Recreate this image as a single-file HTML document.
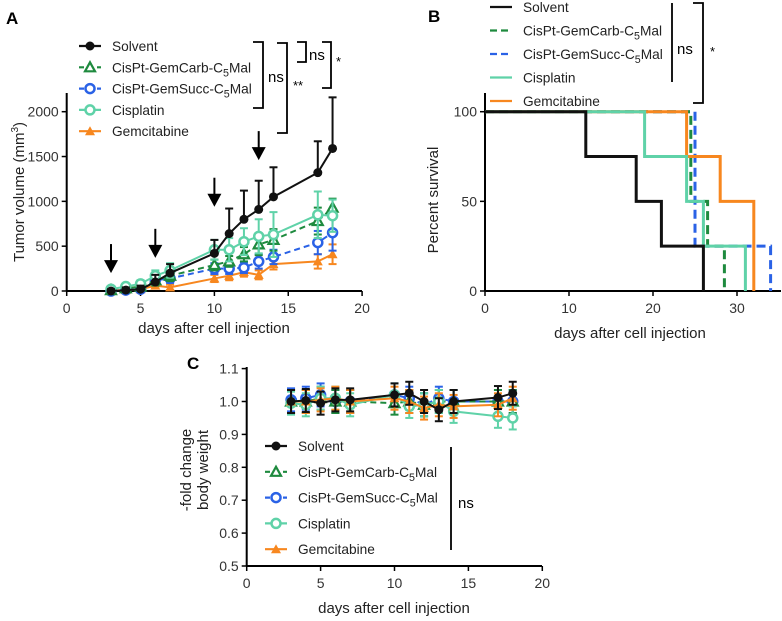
<!DOCTYPE html>
<html><head><meta charset="utf-8"><style>
body{margin:0;background:#fff;}
svg{display:block;font-family:"Liberation Sans",Arial,sans-serif;}
</style></head><body>
<svg id="fig" width="782" height="621" viewBox="0 0 782 621"></svg>
<script>
// ---------- Panel A data ----------
const daysA=[3,4,5,6,7,10,11,12,13,14,17,18];
const solventA=[0,10,20,100,200,420,640,800,910,1050,1320,1590];
const solventAerr=[20,30,40,80,100,150,280,320,320,330,350,570];
const carbA=[10,30,50,120,170,290,330,410,520,570,780,930];
const carbAerr=[20,30,40,60,60,60,60,80,120,120,150,100];
const succA=[0,10,20,120,140,250,250,260,330,380,540,650];
const succAerr=[20,20,20,50,50,60,60,60,80,80,130,200];
const cisA=[20,50,80,170,230,460,460,550,610,630,850,840];
const cisAerr=[20,30,40,60,80,110,130,150,190,250,260,180];
const gemA=[5,10,20,60,40,140,170,210,180,300,330,410];
const gemAerr=[10,10,10,30,30,40,50,50,50,60,80,110];
const ticksAx=[0,5,10,15,20];
const ticksAy=[0,500,1000,1500,2000];
const arrowDays=[3,6,10,13];
const arrowTips=[200,370,940,1460];
// ---------- Panel B data ----------
const solventB_t=[0,12,18,21,26];const solventB_v=[100,75,50,25,0];
const cisB_t=[0,19,24,26,31];const cisB_v=[100,75,50,25,0];
const gemB_t=[0,24,28,32];const gemB_v=[100,75,50,0];
const carbB_t=[0,24.5,26.5,28.5];const carbB_v=[100,50,25,0];
const succB_t=[0,25,34];const succB_v=[100,25,0];
const ticksBx=[0,10,20,30];
const ticksBy=[0,50,100];
// ---------- Panel C data ----------
const daysC=[3,4,5,6,7,10,11,12,13,14,17,18];
const solventC=[1.0,1.003,0.995,1.005,1.005,1.02,1.025,1.0,0.975,1.0,1.012,1.025];
const cisC=[0.995,0.99,1.01,1.01,0.99,1.02,0.985,0.99,1.0,0.97,0.955,0.95];
const carbC=[1.0,1.0,1.01,1.0,1.0,0.995,1.0,0.99,1.0,1.0,1.0,1.0];
const succC=[1.005,1.01,1.02,1.0,1.0,1.02,1.01,0.99,1.01,1.0,1.0,1.0];
const gemC=[1.0,1.0,1.005,1.01,1.0,1.01,1.0,0.98,0.99,0.985,0.99,1.01];
const errC=0.035;
const ticksCx=[0,5,10,15,20];
const ticksCy=[0.5,0.6,0.7,0.8,0.9,1.0,1.1];

const BLACK='#111',GREEN='#1e8a3e',BLUE='#2a62e6',TEAL='#5fd2a8',ORANGE='#f7871f';
const NS='http://www.w3.org/2000/svg';
const svg=document.getElementById('fig');
function el(tag,attrs,parent,text){const e=document.createElementNS(NS,tag);for(const k in attrs)e.setAttribute(k,attrs[k]);if(text!==undefined)e.textContent=text;(parent||svg).appendChild(e);return e;}
function grp(name){const g=el('g',{});


return g;}

const xA=d=>66.7+d*14.77, yA=v=>291-v*(179.3/2000);
const xB=d=>485+d*8.4, yB=v=>291-v*1.793;
const xC=d=>246.7+d*14.78, yC=v=>566-(v-0.5)*329;

function axes(g,x0,x1,y0,y1,xs,ys,tx,ty,xfmt,yfmt){
  el('line',{x1:x0,y1:y0,x2:x1,y2:y0,stroke:'#000','stroke-width':2},g);
  el('line',{x1:x0,y1:y0,x2:x0,y2:y1,stroke:'#000','stroke-width':2},g);
  tx.forEach(t=>{const x=xs(t);el('line',{x1:x,y1:y0,x2:x,y2:y0+5,stroke:'#000','stroke-width':1.5},g);
    el('text',{x:x,y:y0+22,'text-anchor':'middle','font-size':14,fill:'#333'},g,xfmt(t));});
  ty.forEach(t=>{const y=ys(t);el('line',{x1:x0-5,y1:y,x2:x0,y2:y,stroke:'#000','stroke-width':1.5},g);
    el('text',{x:x0-8,y:y+5,'text-anchor':'end','font-size':14,fill:'#333'},g,yfmt(t));});
}
function marker(g,type,x,y,c){
  if(type==='dot')el('circle',{cx:x,cy:y,r:4.5,fill:c},g);
  else if(type==='ring')el('circle',{cx:x,cy:y,r:4.5,fill:'#fff',stroke:c,'stroke-width':2.5},g);
  else if(type==='tri')el('path',{d:`M${x},${y-5}L${x+5},${y+4}L${x-5},${y+4}Z`,fill:'#fff',stroke:c,'stroke-width':2.2},g);
  else if(type==='ftri')el('path',{d:`M${x},${y-5}L${x+5},${y+4}L${x-5},${y+4}Z`,fill:c},g);
}
function series(name,xs,ys,days,vals,errs,both,c,dash,mk){
  const g=grp(name);
  days.forEach((d,i)=>{const x=xs(d),e=Array.isArray(errs)?errs[i]:errs;
    const yt=ys(vals[i]+e),yb=both?ys(vals[i]-e):ys(vals[i]);
    el('line',{x1:x,y1:yt,x2:x,y2:yb,stroke:c,'stroke-width':2},g);
    el('line',{x1:x-4,y1:yt,x2:x+4,y2:yt,stroke:c,'stroke-width':2},g);
    if(both)el('line',{x1:x-4,y1:yb,x2:x+4,y2:yb,stroke:c,'stroke-width':2},g);});
  el('polyline',{points:days.map((d,i)=>xs(d)+','+ys(vals[i])).join(' '),fill:'none',stroke:c,'stroke-width':2,'stroke-dasharray':dash||'none'},g);
  days.forEach((d,i)=>marker(g,mk,xs(d),ys(vals[i]),c));
}
function legend(name,x,y0,dy,items,fs){
  const g=grp(name);
  items.forEach((it,i)=>{const y=y0+i*dy;
    el('line',{x1:x,y1:y,x2:x+22,y2:y,stroke:it[1],'stroke-width':2.2,'stroke-dasharray':it[2]||'none'},g);
    if(it[3])marker(g,it[3],x+11,y,it[1]);
    const t=el('text',{x:x+33,y:y+5,'font-size':fs,fill:'#222'},g);
    const m=it[0].match(/^(.*C)(5)(Mal)$/);
    if(m){t.appendChild(document.createTextNode(m[1]));el('tspan',{dy:4,'font-size':fs-3},t,'5');el('tspan',{dy:-4},t,m[3]);}
    else t.textContent=it[0];});
}
function bracket(g,x,y1,y2,w){el('path',{d:`M${x-w},${y1}H${x}V${y2}H${x-w}`,fill:'none',stroke:'#000','stroke-width':1.8},g);}

// ===== Panel A =====
el('text',{x:6,y:24,'font-size':17,'font-weight':'bold'},null,'A');
const gA=grp('panel-a-axes');
axes(gA,66.7,362,291,93,xA,yA,ticksAx,ticksAy,String,String);
el('text',{x:214,y:333,'text-anchor':'middle','font-size':15,fill:'#222'},gA,'days after cell injection');
const yl=el('text',{transform:'translate(24,192) rotate(-90)','text-anchor':'middle','font-size':15,fill:'#222'},gA,'Tumor volume (mm');
el('tspan',{dy:-6,'font-size':10},yl,'3');el('tspan',{dy:6},yl,')');
series('series-a-gemcitabine',xA,yA,daysA,gemA,gemAerr,true,ORANGE,null,'ftri');
series('series-a-gemsucc',xA,yA,daysA,succA,succAerr,true,BLUE,'6,4','ring');
series('series-a-gemcarb',xA,yA,daysA,carbA,carbAerr,true,GREEN,'6,4','tri');
series('series-a-cisplatin',xA,yA,daysA,cisA,cisAerr,true,TEAL,null,'ring');
series('series-a-solvent',xA,yA,daysA,solventA,solventAerr,false,BLACK,null,'dot');
const gArr=grp('dosing-arrows');
arrowDays.forEach((d,i)=>{const x=xA(d),y=yA(arrowTips[i]);
  el('line',{x1:x,y1:y-29,x2:x,y2:y-10,stroke:'#000','stroke-width':2},gArr);
  el('path',{d:`M${x-7},${y-13}L${x+7},${y-13}L${x},${y}Z`,fill:'#000'},gArr);});
legend('legend-a',79,46,21.3,[['Solvent',BLACK,null,'dot'],['CisPt-GemCarb-C5Mal',GREEN,'5,4','tri'],['CisPt-GemSucc-C5Mal',BLUE,'5,4','ring'],['Cisplatin',TEAL,null,'ring'],['Gemcitabine',ORANGE,null,'ftri']],13.7);
const gSA=grp('significance-a');
bracket(gSA,263,42,108,10);el('text',{x:268,y:82,'font-size':15},gSA,'ns');
bracket(gSA,287,43,133,10);el('text',{x:293,y:90,'font-size':13},gSA,'**');
bracket(gSA,306,42,62,9);el('text',{x:309,y:60,'font-size':15},gSA,'ns');
bracket(gSA,331,42,88,9);el('text',{x:336,y:66,'font-size':13},gSA,'*');

// ===== Panel B =====
el('text',{x:428,y:22,'font-size':17,'font-weight':'bold'},null,'B');
const gB=grp('panel-b-axes');
axes(gB,485,781,291,93,xB,yB,ticksBx,ticksBy,String,String);
el('text',{x:630,y:338,'text-anchor':'middle','font-size':15,fill:'#222'},gB,'days after cell injection');
el('text',{transform:'translate(438,200) rotate(-90)','text-anchor':'middle','font-size':15,fill:'#222'},gB,'Percent survival');
function km(name,ts,vs,c,dash){const g=grp(name);let d='';
  ts.forEach((t,i)=>{const x=xB(t);if(i===0)d+=`M${xB(0)},${yB(vs[0])}`;else d+=`H${x}V${yB(vs[i])}`;});
  el('path',{d:d,fill:'none',stroke:c,'stroke-width':3,'stroke-dasharray':dash||'none'},g);}
km('survival-gemsucc',succB_t,succB_v,BLUE,'9,5');
km('survival-gemcarb',carbB_t,carbB_v,GREEN,'9,5');
km('survival-gemcitabine',gemB_t,gemB_v,ORANGE);
km('survival-cisplatin',cisB_t,cisB_v,TEAL);
km('survival-solvent',solventB_t,solventB_v,BLACK);
legend('legend-b',490,7,23.5,[['Solvent',BLACK],['CisPt-GemCarb-C5Mal',GREEN,'7,4'],['CisPt-GemSucc-C5Mal',BLUE,'7,4'],['Cisplatin',TEAL],['Gemcitabine',ORANGE]],13.7);
const gSB=grp('significance-b');
el('line',{x1:672,y1:3,x2:672,y2:82,stroke:'#000','stroke-width':1.8},gSB);
el('text',{x:677,y:54,'font-size':15},gSB,'ns');
bracket(gSB,703,3,103,10);el('text',{x:710,y:56,'font-size':13},gSB,'*');

// ===== Panel C =====
el('text',{x:187,y:369,'font-size':17,'font-weight':'bold'},null,'C');
const gC=grp('panel-c-axes');
axes(gC,246.7,542,566,367,xC,yC,ticksCx,ticksCy,String,v=>v.toFixed(1));
el('text',{x:394,y:613,'text-anchor':'middle','font-size':15,fill:'#222'},gC,'days after cell injection');
el('text',{transform:'translate(191,470) rotate(-90)','text-anchor':'middle','font-size':15,fill:'#222'},gC,'-fold change');
el('text',{transform:'translate(208,470) rotate(-90)','text-anchor':'middle','font-size':15,fill:'#222'},gC,'body weight');
series('series-c-gemsucc',xC,yC,daysC,succC,errC,true,BLUE,'6,4','ring');
series('series-c-gemcarb',xC,yC,daysC,carbC,errC,true,GREEN,'6,4','tri');
series('series-c-cisplatin',xC,yC,daysC,cisC,errC,true,TEAL,null,'ring');
series('series-c-gemcitabine',xC,yC,daysC,gemC,errC,true,ORANGE,null,'ftri');
series('series-c-solvent',xC,yC,daysC,solventC,errC,true,BLACK,null,'dot');
legend('legend-c',265,446,25.8,[['Solvent',BLACK,null,'dot'],['CisPt-GemCarb-C5Mal',GREEN,'5,4','tri'],['CisPt-GemSucc-C5Mal',BLUE,'5,4','ring'],['Cisplatin',TEAL,null,'ring'],['Gemcitabine',ORANGE,null,'ftri']],13.7);
const gSC=grp('significance-c');
el('line',{x1:451,y1:447,x2:451,y2:550,stroke:'#000','stroke-width':1.8},gSC);
el('text',{x:458,y:508,'font-size':15},gSC,'ns');
</script>
</body></html>
